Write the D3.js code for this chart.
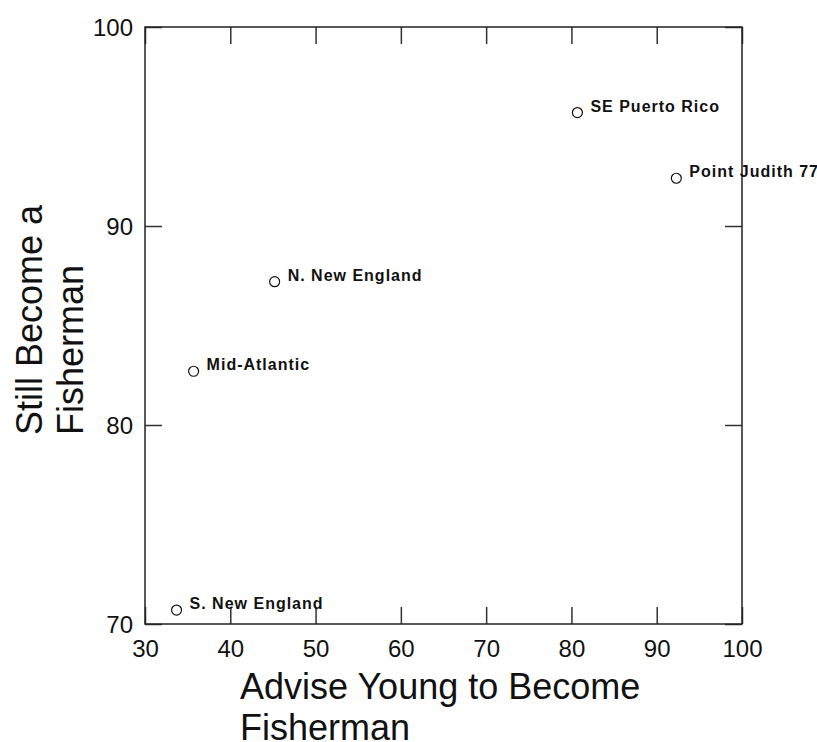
<!DOCTYPE html>
<html>
<head>
<meta charset="utf-8">
<style>
  body { margin: 0; background: #fff; }
  svg { font-family: "Liberation Sans", Arial, sans-serif; }
  .frame { fill: none; stroke: #222; stroke-width: 1.5; }
  .axis path { display: none; }
  .axis line { stroke: #333; stroke-width: 1.5; }
  .axis text { font-size: 24px; fill: #111; }
  circle.dot { fill: #fff; stroke: #111; stroke-width: 1.2; }
  text.lbl { font-size: 16px; font-weight: bold; letter-spacing: 1px; fill: #111; }
  text.title { font-size: 36px; fill: #111; }
</style>
</head>
<body>
<svg id="chart"></svg>
<script src="https://cdn.jsdelivr.net/npm/d3@7"></script>
<script>
// data
var sites = ['SE Puerto Rico', 'Point Judith 77', 'N. New England', 'Mid-Atlantic', 'S. New England'];
var advise = [80.7, 92.3, 45.2, 35.7, 33.7];   // x
var still = [95.7, 92.4, 87.2, 82.7, 70.7];    // y
var xTicks = [30, 40, 50, 60, 70, 80, 90, 100];
var yTicks = [70, 80, 90, 100];

var width = 817, height = 742;
var pLeft = 145, pRight = 742, pTop = 27, pBottom = 624;
var tick = 17;

var svg = d3.select('#chart')
  .attr('width', width)
  .attr('height', height);

var x = d3.scaleLinear().domain([30, 100]).range([pLeft, pRight]);
var y = d3.scaleLinear().domain([70, 100]).range([pBottom, pTop]);

// bottom axis with labels, ticks pointing in
var xAxis = svg.append('g')
  .attr('class', 'axis')
  .attr('transform', 'translate(0,' + pBottom + ')')
  .call(d3.axisBottom(x).tickValues(xTicks).tickSizeInner(-tick).tickSizeOuter(0));
xAxis.selectAll('text').attr('y', 16).attr('dy', '0.72em');

// left axis with labels
var yAxis = svg.append('g')
  .attr('class', 'axis')
  .attr('transform', 'translate(' + pLeft + ',0)')
  .call(d3.axisLeft(y).tickValues(yTicks).tickSizeInner(-tick).tickSizeOuter(0));
yAxis.selectAll('text').attr('x', -12).attr('dy', '0.35em');

// top and right: ticks only
svg.append('g')
  .attr('class', 'axis')
  .attr('transform', 'translate(0,' + pTop + ')')
  .call(d3.axisTop(x).tickValues(xTicks).tickSizeInner(-tick).tickSizeOuter(0).tickFormat(''));

svg.append('g')
  .attr('class', 'axis')
  .attr('transform', 'translate(' + pRight + ',0)')
  .call(d3.axisRight(y).tickValues(yTicks).tickSizeInner(-tick).tickSizeOuter(0).tickFormat(''));

svg.append('rect')
  .attr('class', 'frame')
  .attr('x', pLeft)
  .attr('y', pTop)
  .attr('width', pRight - pLeft)
  .attr('height', pBottom - pTop);

svg.selectAll('circle.dot')
  .data(sites)
  .enter()
  .append('circle')
  .attr('class', 'dot')
  .attr('cx', (d, i) => x(advise[i]))
  .attr('cy', (d, i) => y(still[i]))
  .attr('r', 5);

svg.selectAll('text.lbl')
  .data(sites)
  .enter()
  .append('text')
  .attr('class', 'lbl')
  .attr('x', (d, i) => x(advise[i]) + 13)
  .attr('y', (d, i) => y(still[i]) - 1)
  .text(d => d);

// axis titles
var xt = svg.append('text').attr('class', 'title').attr('x', 240).attr('y', 699);
xt.append('tspan').attr('x', 240).text('Advise Young to Become');
xt.append('tspan').attr('x', 240).attr('dy', 41).text('Fisherman');

var yt = svg.append('text').attr('class', 'title')
  .attr('transform', 'translate(42,435) rotate(-90)');
yt.append('tspan').attr('x', 0).attr('y', 0).text('Still Become a');
yt.append('tspan').attr('x', 0).attr('dy', 41).text('Fisherman');
</script>
</body>
</html>
